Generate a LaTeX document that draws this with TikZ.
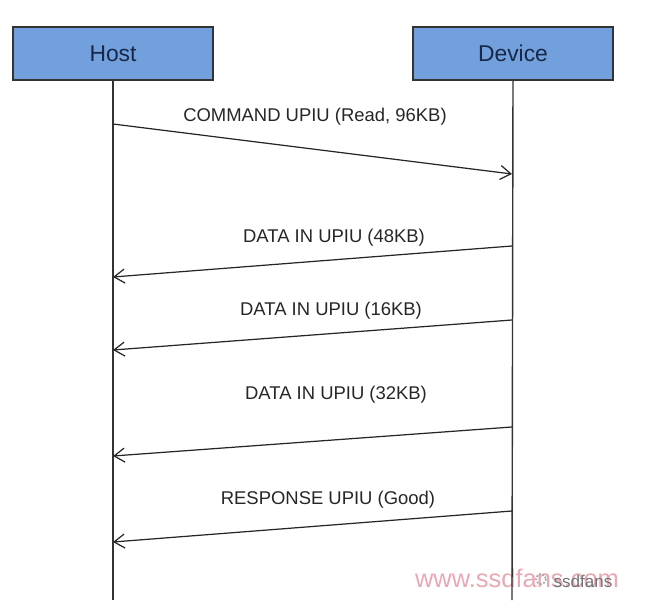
\documentclass[tikz,border=0pt]{standalone}
\usepackage{fontspec}
\setmainfont{Liberation Sans}
\usetikzlibrary{arrows.meta}
\definecolor{boxblue}{RGB}{114,160,220}
\definecolor{boxtext}{RGB}{24,40,72}
\definecolor{markpink}{RGB}{232,168,180}
\tikzset{
  party/.style={draw=black!80, fill=boxblue, line width=0.8pt, minimum width=4cm,
    minimum height=1.06cm, text=boxtext, font=\fontsize{13}{15}\selectfont},
  lifeline/.style={draw=black!80, line width=0.8pt},
  msg/.style={draw=black!85, line width=0.7pt, -{Straight Barb[length=6pt,width=8pt]}},
  msglabel/.style={font=\fontsize{10.5}{12}\selectfont, text=black!85}
}
\begin{document}
\begin{tikzpicture}[x=0.02cm,y=-0.02cm]
        \useasboundingbox (0,0) rectangle (650,608);
        % watermark
        \node[text=markpink, font=\fontsize{14.5}{16}\selectfont] (wm) at (517,578) {www.ssdfans.com};
        \draw[black!35, densely dotted, line width=1pt] (541,579) circle (5);
        \node[text=black!55, font=\fontsize{9.7}{11}\selectfont] (wmsmall) at (583,581) {ssdfans};
        % the two parties
        \node[party] (host) at (113,53.5) {Host};
        \node[party] (device) at (513,53.5) {Device};
        \coordinate (hostend) at (113,600);
        \coordinate (deviceend) at (512,600);
        \draw[lifeline] (host.south) -- (hostend);
        \draw[lifeline] (device.south) -- (deviceend);
        % message end points
        \coordinate (h1) at (113,124);
        \coordinate (d1) at (512,174);
        \coordinate (d2) at (512,246);
        \coordinate (h2) at (113,277);
        \coordinate (d3) at (512,320);
        \coordinate (h3) at (113,350);
        \coordinate (d4) at (512,427);
        \coordinate (h4) at (113,456);
        \coordinate (d5) at (512,511);
        \coordinate (h5) at (113,542);
        \draw[msg] (h1) -- (d1);
        \draw[msg] (d2) -- (h2);
        \draw[msg] (d3) -- (h3);
        \draw[msg] (d4) -- (h4);
        \draw[msg] (d5) -- (h5);
        \node[msglabel] (cmd) at (315,117) {COMMAND UPIU (Read, 96KB)};
        \node[msglabel] (data1) at (334,238) {DATA IN UPIU (48KB)};
        \node[msglabel] (data2) at (331,311) {DATA IN UPIU (16KB)};
        \node[msglabel] (data3) at (336,395) {DATA IN UPIU (32KB)};
        \node[msglabel] (resp) at (328,500) {RESPONSE UPIU (Good)};
    \end{tikzpicture}
\end{document}
